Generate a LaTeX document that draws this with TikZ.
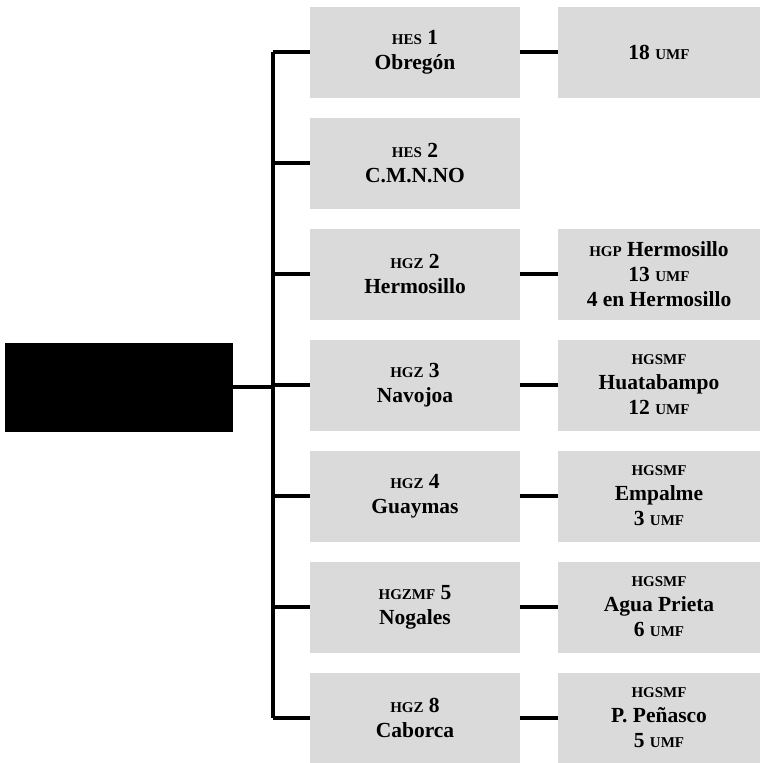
\documentclass[tikz,border=0pt]{standalone}
\usepackage{fontspec}
\setmainfont{Liberation Serif}
\usepackage{xcolor}
\definecolor{box-gray}{HTML}{DADADA}
\newcommand{\abrv}[1]{{\fontsize{15}{15}\selectfont #1}}

\begin{document}
\begin{tikzpicture}[x=1pt, y=-1pt,
    every node/.style={font=\fontsize{21.5}{25}\selectfont\bfseries},
    hosp/.style={fill=box-gray, minimum width=210pt, minimum height=91pt,
      align=center, inner sep=0pt},
    unit/.style={fill=box-gray, minimum width=202pt, minimum height=91pt,
      align=center, inner sep=0pt},
    link/.style={line width=3.2pt}]
    \useasboundingbox (0, 0) rectangle (762, 763);
    \node[fill=black, minimum width=228pt, minimum height=89pt] (root) at (119, 387) {};
    \coordinate (trunk) at (273, 0);
    % second level
    \node[hosp] (h1) at (415, 52) {\abrv{HES} 1\\Obregón};
    \node[hosp] (h2) at (415, 163) {\abrv{HES} 2\\C.M.N.NO};
    \node[hosp] (h3) at (415, 274) {\abrv{HGZ} 2\\Hermosillo};
    \node[hosp] (h4) at (415, 385) {\abrv{HGZ} 3\\Navojoa};
    \node[hosp] (h5) at (415, 496) {\abrv{HGZ} 4\\Guaymas};
    \node[hosp] (h6) at (415, 607) {\abrv{HGZMF} 5\\Nogales};
    \node[hosp] (h7) at (415, 718) {\abrv{HGZ} 8\\Caborca};
    % third level
    \node[unit] (u1) at (659, 52) {18 \abrv{UMF}};
    \node[unit] (u3) at (659, 274) {\abrv{HGP} Hermosillo\\13 \abrv{UMF}\\4 en Hermosillo};
    \node[unit] (u4) at (659, 385) {\abrv{HGSMF}\\Huatabampo\\12 \abrv{UMF}};
    \node[unit] (u5) at (659, 496) {\abrv{HGSMF}\\Empalme\\3 \abrv{UMF}};
    \node[unit] (u6) at (659, 607) {\abrv{HGSMF}\\Agua Prieta\\6 \abrv{UMF}};
    \node[unit] (u7) at (659, 718) {\abrv{HGSMF}\\P. Peñasco\\5 \abrv{UMF}};
    % connectors
    \draw[link] (root.east) -- (root.east -| trunk);
    \draw[link] (h1.west -| trunk) -- (h7.west -| trunk);
    \draw[link] (h1.west -| trunk) -- (h1.west);
    \draw[link] (h2.west -| trunk) -- (h2.west);
    \draw[link] (h3.west -| trunk) -- (h3.west);
    \draw[link] (h4.west -| trunk) -- (h4.west);
    \draw[link] (h5.west -| trunk) -- (h5.west);
    \draw[link] (h6.west -| trunk) -- (h6.west);
    \draw[link] (h7.west -| trunk) -- (h7.west);
    \draw[link] (h1.east) -- (u1.west);
    \draw[link] (h3.east) -- (u3.west);
    \draw[link] (h4.east) -- (u4.west);
    \draw[link] (h5.east) -- (u5.west);
    \draw[link] (h6.east) -- (u6.west);
    \draw[link] (h7.east) -- (u7.west);
  \end{tikzpicture}
\end{document}
